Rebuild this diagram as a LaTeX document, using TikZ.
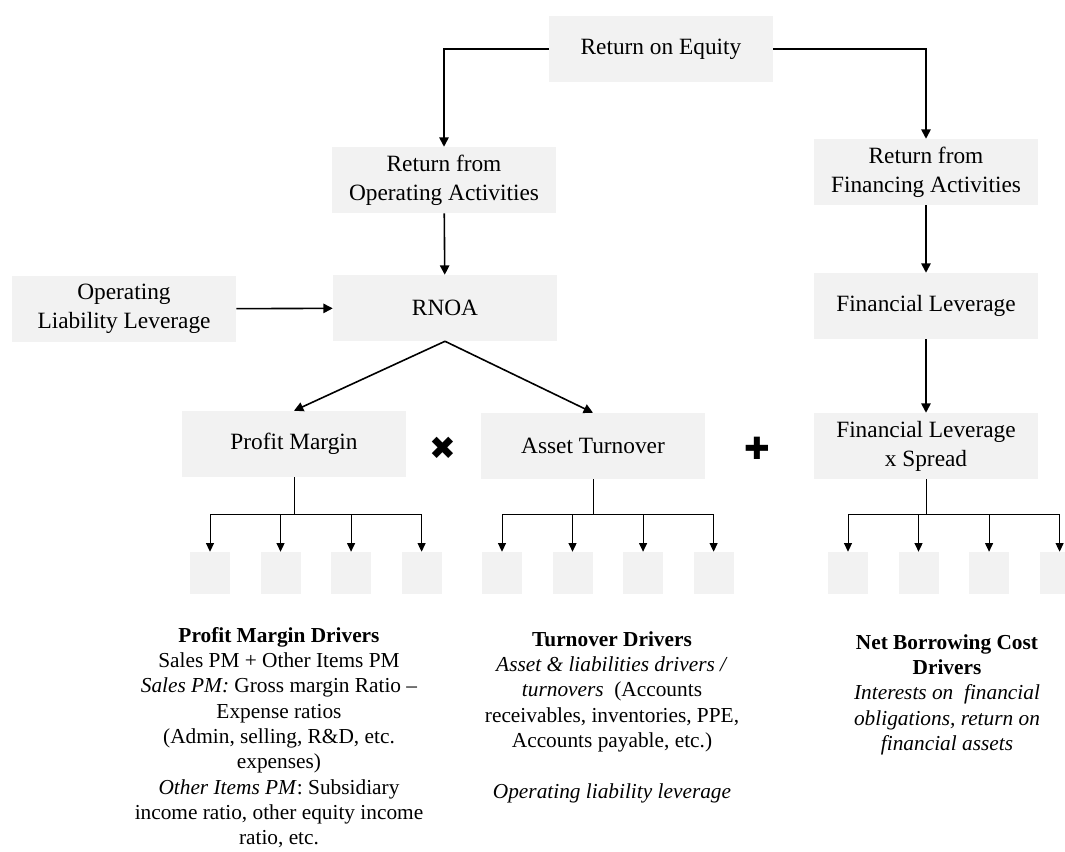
\documentclass[tikz,border=0pt]{standalone}
\usepackage{fontspec}
\setmainfont{Liberation Serif}
\newfontfamily\symfont{DejaVu Sans}
\usetikzlibrary{arrows.meta,positioning}
\definecolor{boxgray}{HTML}{F2F2F2}

\begin{document}
\begin{tikzpicture}[x=0.75pt,y=-0.75pt,
	box/.style={fill=boxgray,minimum width=168pt,minimum height=49.5pt,align=center,inner sep=2pt,font=\fontsize{17.5}{21.75}\selectfont},
	leaf/.style={fill=boxgray,minimum width=30pt,minimum height=31.5pt,inner sep=0pt},
	link/.style={line width=1.2pt,-{Triangle[length=7pt,width=7pt]}},
	twig/.style={line width=0.75pt,-{Triangle[length=6.5pt,width=6pt]}},
	notes/.style={align=center,anchor=north,inner sep=0pt,font=\fontsize{16}{19}\selectfont}]
	\useasboundingbox (0,0) rectangle (1065,851);

	% main boxes
	\node[box] (roe) at (661,49) {Return on Equity};
	\node[box] (ropa) at (444,180) {Return from\\Operating Activities};
	\node[box] (rfa) at (926,172) {Return from\\Financing Activities};
	\node[box] (oll) at (124,309) {Operating\\Liability Leverage};
	\node[box] (rnoa) at (445,308) {RNOA};
	\node[box] (fl) at (926,306) {Financial Leverage};
	\node[box] (pm) at (294,444) {Profit Margin};
	\node[box] (at) at (593,446) {Asset Turnover};
	\node[box] (flxs) at (926,446) {Financial Leverage\\x Spread};

	\node[font=\symfont\fontsize{24}{24}\selectfont] (times) at (443,448) {✖};
	\node[font=\symfont\fontsize{23}{23}\selectfont] (plus) at (757,448) {✚};

	% small driver boxes
	\node[leaf] (pm1) at (210,573) {};
	\node[leaf] (pm2) [right=22.5pt of pm1] {};
	\node[leaf] (pm3) [right=22.5pt of pm2] {};
	\node[leaf] (pm4) [right=22.5pt of pm3] {};
	\node[leaf] (at1) at (502,573) {};
	\node[leaf] (at2) [right=22.5pt of at1] {};
	\node[leaf] (at3) [right=22.5pt of at2] {};
	\node[leaf] (at4) [right=22.5pt of at3] {};
	\node[leaf] (fs1) at (848,573) {};
	\node[leaf] (fs2) [right=22.5pt of fs1] {};
	\node[leaf] (fs3) [right=22.5pt of fs2] {};
	\node[leaf] (fs4) [right=22.5pt of fs3] {};

	\draw[link] (roe.west) -| (ropa.north);
	\draw[link] (roe.east) -| (rfa.north);
	\draw[link] (ropa) -- (rnoa);
	\draw[link] (oll) -- (rnoa);
	\draw[link] (rnoa.south) -- (pm.north);
	\draw[link] (rnoa.south) -- (at.north);
	\draw[link] (rfa) -- (fl);
	\draw[link] (fl) -- (flxs);

	\draw[twig] (pm.south) -- ++(0,37) -| (pm1.north);
	\draw[twig] (pm.south) -- ++(0,37) -| (pm2.north);
	\draw[twig] (pm.south) -- ++(0,37) -| (pm3.north);
	\draw[twig] (pm.south) -- ++(0,37) -| (pm4.north);
	\draw[twig] (at.south) -- ++(0,35) -| (at1.north);
	\draw[twig] (at.south) -- ++(0,35) -| (at2.north);
	\draw[twig] (at.south) -- ++(0,35) -| (at3.north);
	\draw[twig] (at.south) -- ++(0,35) -| (at4.north);
	\draw[twig] (flxs.south) -- ++(0,35) -| (fs1.north);
	\draw[twig] (flxs.south) -- ++(0,35) -| (fs2.north);
	\draw[twig] (flxs.south) -- ++(0,35) -| (fs3.north);
	\draw[twig] (flxs.south) -- ++(0,35) -| (fs4.north);

	% driver notes
	\node[notes] (pmnote) at (279,627) {\textbf{Profit Margin Drivers}\\
		Sales PM + Other Items PM\\
		\textit{Sales PM:} Gross margin Ratio --\\
		Expense ratios\\
		(Admin, selling, R\&D, etc.\\
		expenses)\\
		\textit{Other Items PM}: Subsidiary\\
		income ratio, other equity income\\
		ratio, etc.};
	\node[notes] (atnote) at (612,631) {\textbf{Turnover Drivers}\\
		\textit{Asset \& liabilities drivers /}\\
		\textit{turnovers}\ \ (Accounts\\
		receivables, inventories, PPE,\\
		Accounts payable, etc.)\\[19pt]
		\textit{Operating liability leverage}};
	\node[notes] (fsnote) at (947,634) {\textbf{Net Borrowing Cost}\\
		\textbf{Drivers}\\
		\textit{Interests on\ \ financial}\\
		\textit{obligations, return on}\\
		\textit{financial assets}};
\end{tikzpicture}
\end{document}
